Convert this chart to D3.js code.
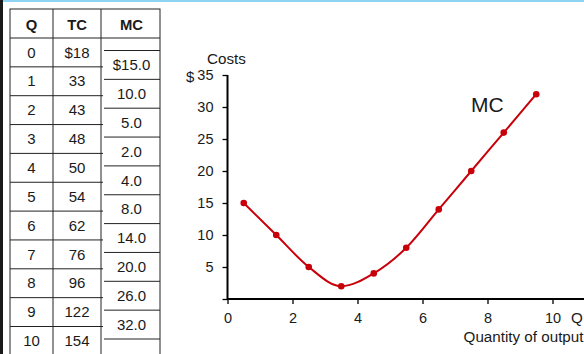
<!DOCTYPE html>
<html>
<head>
<meta charset="utf-8">
<script src="https://cdn.jsdelivr.net/npm/d3@7"></script>
<style>
  html, body { margin: 0; padding: 0; background: #fff; }
  svg { display: block; font-family: "Liberation Sans", Arial, sans-serif; }
</style>
</head>
<body>
<svg id="chart" width="584" height="354"></svg>
<script>
// Cost schedule
const quantities = [0, 1, 2, 3, 4, 5, 6, 7, 8, 9, 10];
const totalCost = ["$18", "33", "43", "48", "50", "54", "62", "76", "96", "122", "154"];
const mcLabels = ["$15.0", "10.0", "5.0", "2.0", "4.0", "8.0", "14.0", "20.0", "26.0", "32.0"];

// Marginal cost plotted at the midpoints between output levels
const mcQ = [0.5, 1.5, 2.5, 3.5, 4.5, 5.5, 6.5, 7.5, 8.5, 9.5];
const mcValues = [15, 10, 5, 2, 4, 8, 14, 20, 26, 32];

const xTicks = [0, 2, 4, 6, 8, 10];
const yTicks = [0, 5, 10, 15, 20, 25, 30, 35];

const svg = d3.select("#chart");
const red = "#c8000a";
const ink = "#1a1a1a";
const FONT = "'Liberation Sans', Arial, sans-serif";

// Page edges
svg.append("rect").attr("x", 0).attr("y", 0).attr("width", 584).attr("height", 2).attr("fill", "#8fd3f4");
svg.append("rect").attr("x", 0).attr("y", 0).attr("width", 3).attr("height", 354).attr("fill", "#1a1a1a");

// ---------- Table ----------
const tbl = { left: 10, c1: 53, c2: 101, right: 160, top: 9, headerBottom: 38, rowH: 28.85 };
const rowY = i => tbl.headerBottom + i * tbl.rowH;
const lineColor = "#222";
const tg = svg.append("g").attr("font-family", FONT).attr("fill", ink);

// outer frame and column dividers
tg.append("rect").attr("x", tbl.left).attr("y", tbl.top)
  .attr("width", tbl.right - tbl.left).attr("height", 354 - tbl.top + 5)
  .attr("fill", "none").attr("stroke", lineColor).attr("stroke-width", 1);
[tbl.c1, tbl.c2].forEach(x => tg.append("line").attr("x1", x).attr("x2", x)
  .attr("y1", tbl.top).attr("y2", 354).attr("stroke", lineColor));
tg.append("line").attr("x1", tbl.left).attr("x2", tbl.right)
  .attr("y1", tbl.headerBottom).attr("y2", tbl.headerBottom).attr("stroke", lineColor);

// headers
[["Q", (tbl.left + tbl.c1) / 2], ["TC", (tbl.c1 + tbl.c2) / 2], ["MC", (tbl.c2 + tbl.right) / 2 + 1]]
  .forEach(([t, x]) => tg.append("text").attr("x", x).attr("y", 29.5)
    .attr("text-anchor", "middle").attr("font-size", 14.8).attr("font-weight", "bold").text(t));

// Q and TC rows
quantities.forEach((q, i) => {
  if (i > 0) tg.append("line").attr("x1", tbl.left).attr("x2", tbl.c2 + 2)
    .attr("y1", rowY(i)).attr("y2", rowY(i)).attr("stroke", lineColor);
  const cy = rowY(i) + tbl.rowH / 2 + 5.2;
  tg.append("text").attr("x", (tbl.left + tbl.c1) / 2).attr("y", cy)
    .attr("text-anchor", "middle").attr("font-size", 15).text(q);
  tg.append("text").attr("x", (tbl.c1 + tbl.c2) / 2).attr("y", cy)
    .attr("text-anchor", "middle").attr("font-size", 15).text(totalCost[i]);
});

// MC rows, offset half a row
for (let k = 0; k <= mcLabels.length; k++) {
  const y = rowY(k) + 12.5;
  tg.append("line").attr("x1", tbl.c2 + 3).attr("x2", tbl.right)
    .attr("y1", y).attr("y2", y).attr("stroke", lineColor);
}
mcLabels.forEach((m, k) => {
  tg.append("text").attr("x", (tbl.c2 + tbl.right) / 2 + 1).attr("y", rowY(k) + 12.5 + tbl.rowH / 2 + 5.2)
    .attr("text-anchor", "middle").attr("font-size", 15).text(m);
});

// ---------- Chart ----------
const x = d3.scaleLinear().domain([0, 10]).range([227.5, 552.5]);
const y = d3.scaleLinear().domain([0, 35]).range([299, 75]);

const xAxis = svg.append("g").attr("transform", `translate(0,${y(0)})`)
  .call(d3.axisBottom(x).tickValues(xTicks).tickSize(5).tickPadding(9).tickFormat(d3.format("d")));
xAxis.select(".domain").remove();
xAxis.append("line").attr("x1", x(0)).attr("x2", 584).attr("y1", 0).attr("y2", 0)
  .attr("stroke", "#000").attr("stroke-width", 2);

const yAxis = svg.append("g").attr("transform", `translate(${x(0)},0)`)
  .call(d3.axisLeft(y).tickValues(yTicks).tickSize(5).tickPadding(9)
    .tickFormat(d => d === 0 ? "" : d));
yAxis.select(".domain").remove();
yAxis.append("line").attr("x1", 0).attr("x2", 0).attr("y1", y(35)).attr("y2", y(0) + 1)
  .attr("stroke", "#000").attr("stroke-width", 2);

[xAxis, yAxis].forEach(a => {
  a.selectAll(".tick line").attr("stroke", "#000").attr("stroke-width", 1.3);
  a.selectAll(".tick text").attr("fill", ink).attr("font-size", 14.5).attr("font-family", FONT);
});

// axis titles
const label = (tx, ty, t, size, anchor) => svg.append("text").attr("x", tx).attr("y", ty)
  .attr("font-size", size).attr("font-family", FONT).attr("fill", ink)
  .attr("text-anchor", anchor || "start").text(t);
label(186, y(35) + 7, "$", 15);
label(207, 63.5, "Costs", 15.2);
label(571, y(0) + 24.3, "Q", 15.2);
label(583.5, y(0) + 43, "Quantity of output", 15.2, "end");

// MC curve
const pts = mcQ.map((q, i) => [q, mcValues[i]]);
const line = d3.line().x(d => x(d[0])).y(d => y(d[1])).curve(d3.curveMonotoneX);
svg.append("path").datum(pts).attr("d", line)
  .attr("fill", "none").attr("stroke", red).attr("stroke-width", 2);
svg.selectAll("circle.mc").data(pts).join("circle").attr("class", "mc")
  .attr("cx", d => x(d[0])).attr("cy", d => y(d[1])).attr("r", 3.3).attr("fill", red);

label(471, 112, "MC", 21);
</script>
</body>
</html>
